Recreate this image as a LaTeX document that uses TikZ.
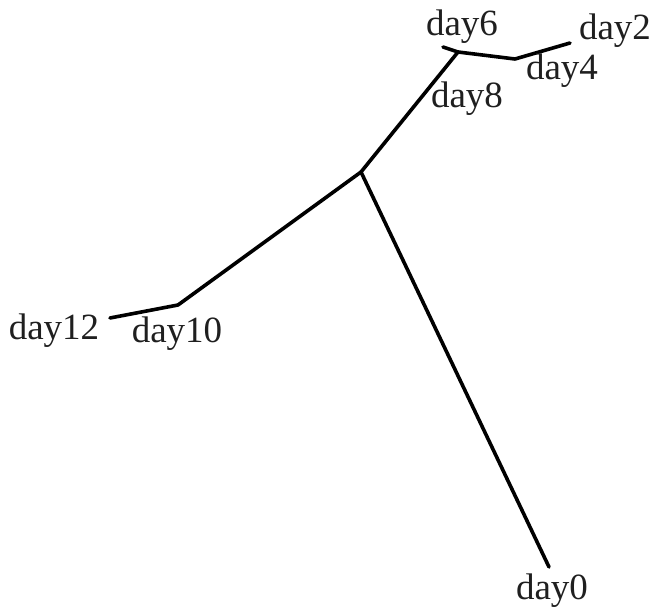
\documentclass[tikz,border=0pt]{standalone}
\usepackage{fontspec}
\setmainfont{Liberation Serif}
\usetikzlibrary{positioning}
\tikzset{
  rama/.style={line width=3.6pt, black, line cap=round, line join=round},
  etiquetaDia/.style={font=\fontsize{37}{40}\selectfont, text=black!88, inner sep=0pt},
}
\begin{document}
\begin{tikzpicture}[x=1pt, y=-1pt]
    \useasboundingbox (0,0) rectangle (655,609);
    % puntos del arbol
    \coordinate (centro) at (361,172);
    \coordinate (nudoOcho) at (458,52);
    \coordinate (nudoCuatro) at (515,59);
    \coordinate (nudoDiez) at (178,305);
    \coordinate (finCero) at (549,567);
    \coordinate (finSeis) at (443,47);
    \coordinate (finDos) at (570,43);
    \coordinate (finDoce) at (110,318);
    % ramas
    \draw[rama] (centro) -- (finCero);
    \draw[rama] (centro) -- (nudoOcho);
    \draw[rama] (nudoOcho) -- (finSeis);
    \draw[rama] (nudoOcho) -- (nudoCuatro);
    \draw[rama] (nudoCuatro) -- (finDos);
    \draw[rama] (centro) -- (nudoDiez);
    \draw[rama] (nudoDiez) -- (finDoce);
    % etiquetas
    \node[etiquetaDia] (diaSeis) at (462,27) {day6};
    \node[etiquetaDia] (diaDos) at (615,31) {day2};
    \node[etiquetaDia] (diaCuatro) at (562,71) {day4};
    \node[etiquetaDia] (diaOcho) at (467,99) {day8};
    \node[etiquetaDia] (diaDoce) at (54,331) {day12};
    \node[etiquetaDia] (diaDiez) at (177,334) {day10};
    \node[etiquetaDia] (diaCero) at (552,591) {day0};
\end{tikzpicture}
\end{document}
